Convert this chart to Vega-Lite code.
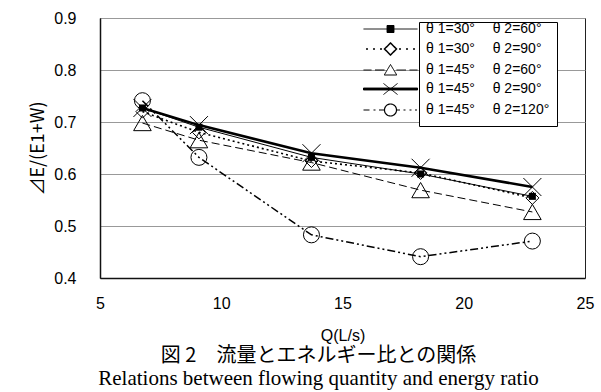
{
  "$schema": "https://vega.github.io/schema/vega-lite/v6.json",
  "width": 485,
  "height": 260,
  "autosize": {"type": "none"},
  "padding": {"left": 100, "top": 18, "right": 16, "bottom": 114},
  "background": "white",
  "config": {
    "view": {"stroke": "#222", "strokeWidth": 1},
    "font": "Liberation Sans",
    "legend": {
      "padding": 7,
      "strokeColor": "black",
      "fillColor": "white",
      "cornerRadius": 0,
      "symbolSize": 100,
      "rowPadding": 4,
      "labelFont": "Liberation Sans",
      "labelFontSize": 14,
      "labelColor": "black",
      "labelLimit": 0
    }
  },
  "data": {
    "values": [
      {"series": "θ 1=30°\u2003 θ 2=60°", "q": 6.75, "r": 0.727},
      {"series": "θ 1=30°\u2003 θ 2=60°", "q": 9.08, "r": 0.69},
      {"series": "θ 1=30°\u2003 θ 2=60°", "q": 13.72, "r": 0.632},
      {"series": "θ 1=30°\u2003 θ 2=60°", "q": 18.22, "r": 0.6},
      {"series": "θ 1=30°\u2003 θ 2=60°", "q": 22.83, "r": 0.557},
      {"series": "θ 1=30°\u2003 θ 2=90°", "q": 6.75, "r": 0.72},
      {"series": "θ 1=30°\u2003 θ 2=90°", "q": 9.08, "r": 0.68},
      {"series": "θ 1=30°\u2003 θ 2=90°", "q": 13.72, "r": 0.625},
      {"series": "θ 1=30°\u2003 θ 2=90°", "q": 18.22, "r": 0.602},
      {"series": "θ 1=30°\u2003 θ 2=90°", "q": 22.83, "r": 0.554},
      {"series": "θ 1=45°\u2003 θ 2=60°", "q": 6.75, "r": 0.698},
      {"series": "θ 1=45°\u2003 θ 2=60°", "q": 9.08, "r": 0.665},
      {"series": "θ 1=45°\u2003 θ 2=60°", "q": 13.72, "r": 0.622},
      {"series": "θ 1=45°\u2003 θ 2=60°", "q": 18.22, "r": 0.569},
      {"series": "θ 1=45°\u2003 θ 2=60°", "q": 22.83, "r": 0.527},
      {"series": "θ 1=45°\u2003 θ 2=90°", "q": 6.75, "r": 0.727},
      {"series": "θ 1=45°\u2003 θ 2=90°", "q": 9.08, "r": 0.694},
      {"series": "θ 1=45°\u2003 θ 2=90°", "q": 13.72, "r": 0.64},
      {"series": "θ 1=45°\u2003 θ 2=90°", "q": 18.22, "r": 0.612},
      {"series": "θ 1=45°\u2003 θ 2=90°", "q": 22.83, "r": 0.575},
      {"series": "θ 1=45°\u2003 θ 2=120°", "q": 6.75, "r": 0.741},
      {"series": "θ 1=45°\u2003 θ 2=120°", "q": 9.08, "r": 0.632},
      {"series": "θ 1=45°\u2003 θ 2=120°", "q": 13.72, "r": 0.483},
      {"series": "θ 1=45°\u2003 θ 2=120°", "q": 18.22, "r": 0.441},
      {"series": "θ 1=45°\u2003 θ 2=120°", "q": 22.83, "r": 0.471}
    ]
  },
  "encoding": {
    "x": {
      "field": "q",
      "type": "quantitative",
      "scale": {"domain": [5, 25], "nice": false, "zero": false},
      "axis": {
        "title": "Q(L/s)",
        "titleFont": "Liberation Sans",
        "titleFontSize": 16,
        "titleFontWeight": "normal",
        "titleColor": "black",
        "titlePadding": 16,
        "values": [5, 10, 15, 20, 25],
        "grid": false,
        "ticks": false,
        "domainColor": "#111",
        "domainWidth": 1.5,
        "labelFontSize": 16,
        "labelColor": "black",
        "labelPadding": 17,
        "labelFlush": false,
        "labelOverlap": false
      }
    },
    "y": {
      "field": "r",
      "type": "quantitative",
      "scale": {"domain": [0.4, 0.9], "nice": false, "zero": false},
      "axis": {
        "title": "⊿E/(E1+W)",
        "titleFont": "Noto Sans CJK JP",
        "titleFontSize": 18,
        "titleFontWeight": "normal",
        "titleColor": "black",
        "titlePadding": 6,
        "values": [0.4, 0.5, 0.6, 0.7, 0.8, 0.9],
        "format": ".1f",
        "grid": true,
        "gridColor": "#999",
        "gridWidth": 1,
        "ticks": false,
        "domainColor": "#111",
        "domainWidth": 1.5,
        "labelFontSize": 16,
        "labelColor": "black",
        "labelPadding": 24
      }
    }
  },
  "layer": [
    {
      "transform": [{"filter": "datum.series == 'θ 1=30°\u2003 θ 2=60°'"}],
      "mark": {"type": "line", "strokeWidth": 1},
      "encoding": {
        "color": {
          "field": "series",
          "type": "nominal",
          "scale": {
            "domain": ["θ 1=30°\u2003 θ 2=60°", "θ 1=30°\u2003 θ 2=90°", "θ 1=45°\u2003 θ 2=60°", "θ 1=45°\u2003 θ 2=90°", "θ 1=45°\u2003 θ 2=120°"],
            "range": ["black", "black", "black", "black", "black"]
          },
          "legend": {
            "title": null,
            "orient": "none",
            "legendX": 319,
            "legendY": 4,
            "encoding": {
              "symbols": {
                "shape": {"value": {"expr": "['M-12.5,0L-1.7,0M-7.8,-0.7L-6.4,-0.7L-6.4,0.7L-7.8,0.7Z','M-12,0L-11.6,0M-10.6,0L-10.2,0M-9.2,0L-8.8,0M-5.4,0L-5,0M-4,0L-3.6,0M-2.6,0L-2.2,0M-8.3,0L-7.1,-1.2L-5.9,0L-7.1,1.2Z','M-12.5,0L-10.9,0M-10.2,0L-8.3,0M-5.9,0L-4,0M-3.3,0L-1.7,0M-7.1,-1.1L-5.85,1L-8.35,1Z','M-12.5,-0.2L-1.7,-0.2L-1.7,0.2L-12.5,0.2ZM-8.5,-1.1L-5.7,1.1M-8.5,1.1L-5.7,-1.1','M-12.5,0L-11.3,0M-10.5,0L-10.1,0M-9.4,0L-8.3,0M-5.9,0L-5.2,0M-4.5,0L-4.1,0M-3.3,0L-2.9,0M-2.2,0L-1.8,0M-5.9,0A1.2,1.2,0,1,1,-8.3,0A1.2,1.2,0,1,1,-5.9,0Z'][datum.index]"}},
                "fill": {"value": {"expr": "['black','white','white','black','white'][datum.index]"}},
                "strokeWidth": {"value": {"expr": "[1,1.5,1,1,1.2][datum.index]"}},
                "stroke": {"value": "black"},
                "strokeDash": {"value": [1, 0]},
                "size": {"value": 100},
                "opacity": {"value": 1}
              }
            }
          }
        }
      }
    },
    {
      "transform": [{"filter": "datum.series == 'θ 1=30°\u2003 θ 2=90°'"}],
      "mark": {"type": "line", "strokeWidth": 1.6, "strokeDash": [2, 3]},
      "encoding": {"color": {"field": "series", "type": "nominal"}}
    },
    {
      "transform": [{"filter": "datum.series == 'θ 1=45°\u2003 θ 2=60°'"}],
      "mark": {"type": "line", "strokeWidth": 1, "strokeDash": [8, 4]},
      "encoding": {"color": {"field": "series", "type": "nominal"}}
    },
    {
      "transform": [{"filter": "datum.series == 'θ 1=45°\u2003 θ 2=90°'"}],
      "mark": {"type": "line", "strokeWidth": 2.6},
      "encoding": {"color": {"field": "series", "type": "nominal"}}
    },
    {
      "transform": [{"filter": "datum.series == 'θ 1=45°\u2003 θ 2=120°'"}],
      "mark": {"type": "line", "strokeWidth": 1.5, "strokeDash": [8, 3, 2, 3, 2, 3]},
      "encoding": {"color": {"field": "series", "type": "nominal"}}
    },
    {
      "transform": [{"filter": "datum.series == 'θ 1=30°\u2003 θ 2=60°'"}],
      "mark": {"type": "point", "shape": "square", "size": 49, "filled": true, "color": "black", "opacity": 1},
      "encoding": {}
    },
    {
      "transform": [{"filter": "datum.series == 'θ 1=30°\u2003 θ 2=90°'"}],
      "mark": {"type": "point", "shape": "diamond", "size": 169, "filled": false, "stroke": "black", "strokeWidth": 1, "opacity": 1},
      "encoding": {}
    },
    {
      "transform": [{"filter": "datum.series == 'θ 1=45°\u2003 θ 2=60°'"}],
      "mark": {"type": "point", "shape": "triangle-up", "size": 310, "filled": false, "stroke": "black", "strokeWidth": 1, "opacity": 1},
      "encoding": {}
    },
    {
      "transform": [{"filter": "datum.series == 'θ 1=45°\u2003 θ 2=90°'"}],
      "mark": {"type": "point", "shape": "M-1,-1L1,1M-1,1L1,-1", "size": 324, "filled": false, "stroke": "black", "strokeWidth": 1, "opacity": 1},
      "encoding": {}
    },
    {
      "transform": [{"filter": "datum.series == 'θ 1=45°\u2003 θ 2=120°'"}],
      "mark": {"type": "point", "shape": "circle", "size": 256, "filled": false, "stroke": "black", "strokeWidth": 1, "opacity": 1},
      "encoding": {}
    }
  ],
  "title": {
    "text": "図 2　流量とエネルギー比との関係",
    "subtitle": "Relations between flowing quantity and energy ratio",
    "orient": "bottom",
    "anchor": "middle",
    "font": "Noto Sans CJK JP",
    "fontSize": 20,
    "fontWeight": "normal",
    "color": "black",
    "subtitleFont": "Liberation Serif",
    "subtitleFontSize": 21,
    "subtitleColor": "black",
    "subtitlePadding": 2,
    "dx": -24,
    "offset": 3
  }
}
